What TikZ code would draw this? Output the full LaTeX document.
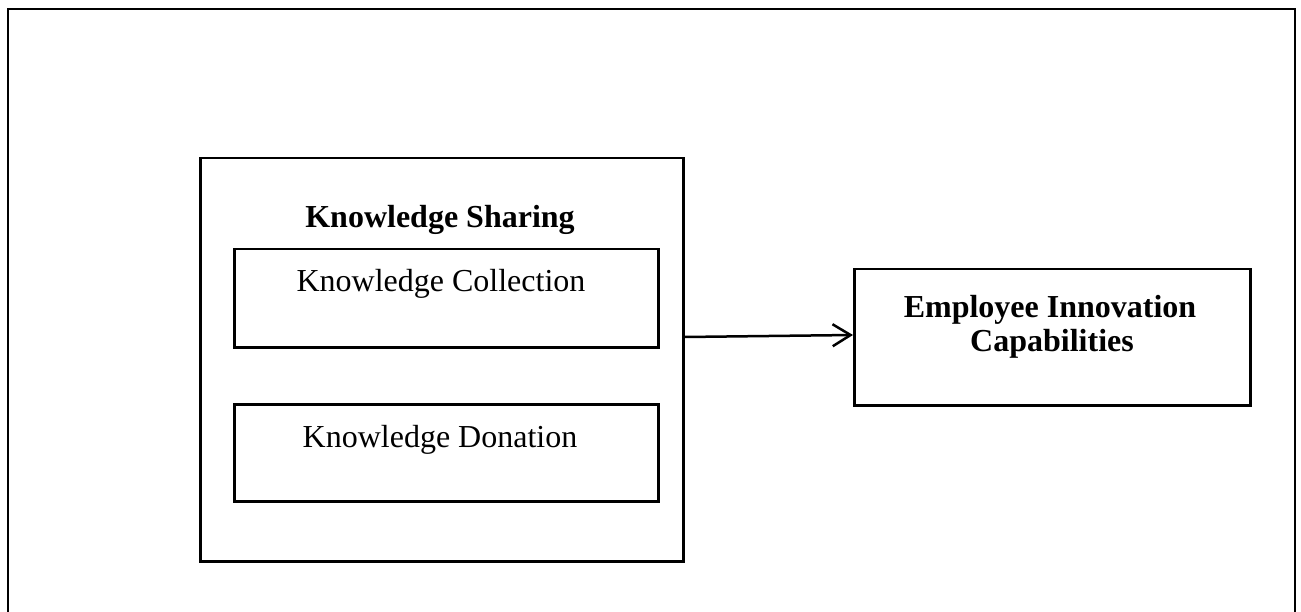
\documentclass[tikz,border=0pt]{standalone}
\usepackage{fontspec}
\setmainfont{Liberation Serif}
\usetikzlibrary{arrows.meta}
\begin{document}
\begin{tikzpicture}[x=1pt,y=-1pt,
  boxline/.style={draw=black,line width=2.5pt},
  lbl/.style={font=\fontsize{32}{38}\selectfont,anchor=base,inner sep=0pt},
  blbl/.style={lbl,font=\fontsize{32}{38}\selectfont\bfseries}]
\useasboundingbox (0,0) rectangle (1301,612);
\fill[white] (0,0) rectangle (1301,612);
% outer frame (bottom edge falls outside the picture)
\draw[line width=2.5pt] (8,640) -- (8,9) -- (1295,9) -- (1295,640);
% boxes
\node[boxline,minimum width=483pt,minimum height=403pt,anchor=north west,inner sep=0pt] (ks) at (199,157) {};
\node[boxline,minimum width=424pt,minimum height=98pt,anchor=north west,inner sep=0pt] (kc) at (233,248) {};
\node[boxline,minimum width=424pt,minimum height=97pt,anchor=north west,inner sep=0pt] (kd) at (233,403) {};
\node[boxline,minimum width=396pt,minimum height=136pt,anchor=north west,inner sep=0pt] (eic) at (853,268) {};
% labels
\node[blbl] (ksl) at (440,228) {Knowledge Sharing};
\node[lbl] (kcl) at (441,292) {Knowledge Collection};
\node[lbl] (kdl) at (440,447) {Knowledge Donation};
\node[blbl] (eil1) at (1050,317) {Employee Innovation};
\node[blbl] (eil2) at (1052,351) {Capabilities};
% connector
\draw[line width=2.5pt,-{Straight Barb[length=18pt,width=22pt,line width=2.5pt]}] (ks.east |- 0,337) -- (eic.west |- 0,335);
\end{tikzpicture}
\end{document}
